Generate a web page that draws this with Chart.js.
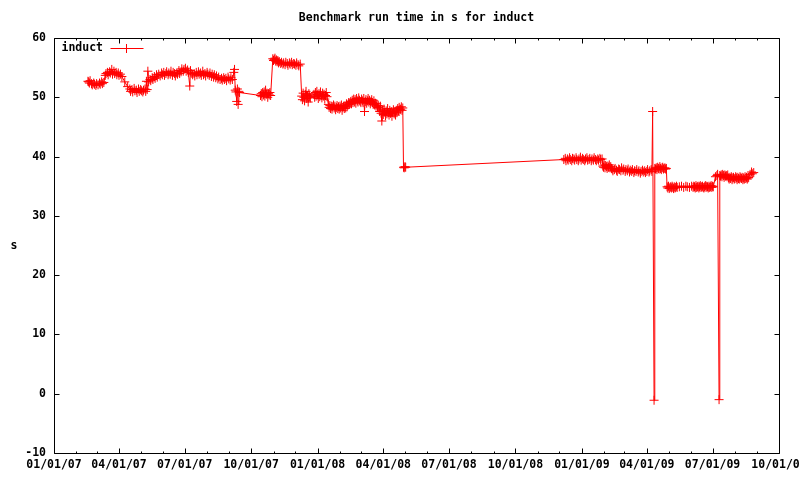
<!DOCTYPE html>
<html>
<head>
<meta charset="utf-8">
<title>Benchmark run time in s for induct</title>
<script src="https://cdn.jsdelivr.net/npm/chart.js@4.4.1/dist/chart.umd.min.js"></script>
<style>
	html, body { margin: 0; padding: 0; background: #fff; }
</style>
</head>
<body>
<canvas id="runChart" width="800" height="480"></canvas>
<script>
"use strict";

/*******************
	  DATA
*******************/

// x values are days counted from 01/01/07
var xTickLabels = ['01/01/07', '04/01/07', '07/01/07', '10/01/07', '01/01/08', '04/01/08',
	'07/01/08', '10/01/08', '01/01/09', '04/01/09', '07/01/09', '10/01/09'];

var yMin = -10;
var yMax = 60;
var yStep = 10;

var runDays = [
	47,48,49,50,52,53,55,56,58,59,61,63,64,66,67,69,
	71,72,74,75,77,78,80,81,83,84,86,87,89,90,92,94,
	98,102,105,106,108,109,111,112,114,115,117,118,120,121,123,124,126,127,128,129,130,131,
	133,134,136,137,139,140,142,143,145,
	147,149,150,152,153,155,156,158,159,161,162,164,165,167,168,170,171,173,174,176,177,179,180,
	182,183,185,186,188,189,191,192,
	194,195,197,198,200,201,203,204,206,207,209,210,212,213,215,216,218,219,221,222,224,225,227,228,230,
	232,233,235,236,238,239,241,242,244,245,247,249,250,
	251,252,253,254,255,256,257,
	286,287,288,289,290,291,292,293,294,295,296,297,298,299,300,
	303,304,305,306,307,308,309,310,311,312,314,315,317,318,320,321,323,324,326,327,329,330,332,333,335,336,338,339,341,
	343,344,345,346,347,348,349,350,351,352,353,354,355,
	360,361,362,363,364,365,366,367,368,369,370,371,372,373,374,375,376,377,378,
	380,381,382,383,384,385,386,387,388,389,390,391,392,393,394,395,396,397,398,399,400,401,402,403,404,405,406,407,408,409,410,
	411,412,413,414,415,416,417,418,419,420,421,422,423,424,425,426,427,428,429,430,431,432,433,434,435,436,437,438,439,440,441,442,443,444,445,446,447,448,449,
	450,451,452,453,454,455,456,457,458,459,460,461,462,463,464,465,466,467,468,469,470,471,472,473,474,475,476,477,478,479,
	480,481,482,483,484,485,486,487,
	706,708,709,711,712,714,715,717,718,720,721,723,724,726,727,729,730,732,733,735,736,738,739,741,742,744,745,747,748,750,751,753,754,756,757,759,
	760,761,762,763,764,765,766,767,768,769,770,771,772,
	773,774,776,777,779,780,782,783,785,786,788,789,791,792,794,795,797,798,800,801,803,804,806,807,809,810,812,813,815,816,818,819,821,822,824,825,827,828,
	829,831,
	832,833,834,835,836,837,838,839,840,841,842,843,844,845,846,847,848,
	849,850,851,852,853,854,855,856,857,858,859,860,861,862,863,
	866,869,872,875,877,880,883,
	885,886,887,888,889,890,891,892,893,894,895,896,897,898,899,900,901,902,903,904,905,906,907,908,909,910,911,912,913,
	916,918,919,921,
	922,923,924,925,926,927,928,929,930,931,932,933,
	934,935,936,937,938,939,940,941,942,943,944,945,946,947,948,949,950,951,952,953,954,955,956,957,958,959,960,961,962,
	964,966,967,969
];

var runTimes = [
	52.7,52.6,52.4,52.8,52.3,52.1,52.4,52.2,52.0,52.3,52.1,52.4,52.2,52.6,52.3,52.5,
	53.7,54.0,54.2,53.8,54.3,54.1,54.7,53.9,54.4,54.0,54.2,53.8,54.1,53.7,53.9,53.5,
	52.6,51.8,51.4,51.0,51.3,50.9,51.5,51.1,51.2,50.8,51.4,51.0,51.3,51.1,50.9,51.2,51.4,51.0,52.7,51.3,54.4,52.6,
	53.0,52.8,53.3,53.0,53.5,53.2,53.8,53.4,53.9,
	53.6,54.1,53.8,54.2,53.7,54.0,54.3,53.8,54.1,53.9,54.4,53.7,54.2,54.0,53.6,54.1,53.9,54.5,54.0,54.3,54.8,54.4,54.7,
	54.9,54.4,54.6,54.2,51.9,54.5,54.0,53.8,
	54.0,53.6,54.2,53.8,54.3,53.9,54.1,53.7,54.4,53.8,54.0,53.6,54.2,53.9,53.7,54.1,53.5,53.9,53.4,53.8,53.3,53.6,53.1,53.4,53.0,
	53.2,52.9,53.3,53.0,53.2,52.8,53.4,53.1,52.9,53.3,53.0,54.2,54.7,
	51.2,50.9,49.3,51.4,48.8,51.0,50.8,
	50.3,50.6,50.1,50.8,50.4,50.9,50.2,51.2,50.5,50.7,50.0,50.6,50.4,50.8,50.3,
	56.5,56.2,56.4,56.6,56.1,56.3,56.0,56.2,55.8,56.0,55.7,55.9,55.6,55.8,55.5,55.9,55.7,55.4,55.8,55.6,55.9,55.5,55.7,55.6,55.4,55.8,55.5,55.3,55.6,
	50.2,49.6,50.7,50.0,49.4,50.5,51.0,49.8,50.3,49.2,50.6,50.1,49.9,
	50.5,50.0,50.8,50.2,51.0,50.4,49.8,50.6,50.1,50.9,50.3,49.9,50.7,50.2,50.5,49.7,50.3,50.8,50.1,
	48.8,48.3,48.6,48.1,48.5,48.0,48.4,48.7,48.2,48.5,47.9,48.3,48.6,48.1,48.4,48.0,48.5,48.2,48.7,47.8,48.3,48.5,48.1,48.6,48.2,48.9,48.4,48.7,49.1,48.8,49.0,
	49.3,48.9,49.5,49.1,49.7,49.2,49.6,49.0,49.8,49.4,49.2,49.9,49.5,49.3,49.1,49.7,49.4,49.1,49.8,47.6,49.3,49.6,49.0,49.4,49.8,49.2,49.5,48.9,49.3,49.6,49.1,48.8,49.4,48.7,49.0,48.5,48.9,48.3,48.6,
	48.2,47.6,48.5,47.3,46.0,47.8,47.1,48.0,47.5,46.9,47.7,47.2,48.1,47.4,47.0,47.8,47.3,47.6,46.8,47.5,47.9,47.2,47.6,47.0,47.8,47.4,48.1,47.7,48.3,47.9,
	48.0,48.4,47.8,48.2,38.2,38.1,38.3,38.2,
	39.5,39.7,39.3,39.6,39.4,39.8,39.5,39.3,39.7,39.6,39.4,39.8,39.5,39.3,39.6,39.9,39.4,39.7,39.5,39.3,39.6,39.8,39.4,39.5,39.7,39.3,39.6,39.4,39.8,39.5,39.3,39.6,39.4,39.7,39.5,39.6,
	38.4,38.2,38.6,38.1,38.5,38.3,38.0,38.4,38.2,38.6,38.1,38.3,38.0,
	37.9,37.6,37.8,38.0,37.7,37.5,37.9,37.8,37.6,38.1,37.7,37.9,37.5,37.8,37.6,37.9,37.4,37.7,37.5,37.8,37.3,37.6,37.5,37.8,37.4,37.6,37.2,37.5,37.7,37.4,37.6,37.3,37.5,37.8,37.4,37.6,37.8,37.5,
	47.6,-1.1,
	38.0,37.9,38.1,37.8,38.2,38.0,37.9,38.3,38.0,37.8,38.1,38.2,37.9,38.0,38.1,37.9,38.0,
	34.9,34.7,35.0,34.6,34.8,34.9,34.7,35.0,34.8,34.6,34.9,34.7,34.8,35.0,34.8,
	34.9,35.0,34.8,35.0,34.9,34.8,35.0,
	34.8,35.0,34.9,34.7,35.1,34.8,34.9,35.0,34.7,34.9,35.1,34.8,34.9,35.0,34.8,34.7,34.9,35.1,34.8,35.0,34.9,34.7,35.0,34.8,34.9,35.1,34.8,35.0,34.9,
	36.6,36.8,37.0,-1.0,
	36.8,36.7,36.9,36.6,37.0,36.8,36.5,36.9,36.7,36.8,36.6,36.9,
	36.4,36.2,36.5,36.3,36.6,36.1,36.4,36.5,36.2,36.3,36.6,36.4,36.1,36.5,36.3,36.2,36.6,36.4,36.3,36.5,36.1,36.4,36.2,36.6,36.3,36.5,36.2,36.4,36.5,
	37.0,37.4,37.1,37.3
];

/*******************
	 HELPERS
*******************/

var DAY = 86400000;
var START = Date.UTC(2007, 0, 1);

function labelToDay(label) {
	var p = label.split('/');
	return (Date.UTC(2000 + Number(p[2]), Number(p[0]) - 1, Number(p[1])) - START) / DAY;
}

var xTickDays = xTickLabels.map(labelToDay);

// month starts between the quarter ticks
var minorDays = [];
for (var m = 0; m < 33; m++) {
	if (m % 3 !== 0) {
		minorDays.push((Date.UTC(2007, m, 1) - START) / DAY);
	}
}

var points = runDays.map(function (d, i) {
	return { x: d, y: runTimes[i] };
});

var FONT = { family: '"DejaVu Sans Mono", monospace', size: 11.5, weight: 'bold' };
var fontCss = 'bold 11.5px "DejaVu Sans Mono", monospace';

/*******************
  FRAME, TICKS, KEY
*******************/

var gnuplotFrame = {
	id: 'gnuplotFrame',
	afterDraw: function (chart) {
		var ctx = chart.ctx;
		var a = chart.chartArea;
		var xs = chart.scales.x;
		var ys = chart.scales.y;
		var L = Math.round(a.left) + 0.5;
		var R = Math.round(a.right) + 0.5;
		var T = Math.round(a.top) + 0.5;
		var B = Math.round(a.bottom) + 0.5;

		ctx.save();
		ctx.strokeStyle = '#000';
		ctx.lineWidth = 1;
		ctx.beginPath();
		ctx.rect(L, T, R - L, B - T);

		xTickDays.forEach(function (v) {
			var px = Math.round(xs.getPixelForValue(v)) + 0.5;
			ctx.moveTo(px, B); ctx.lineTo(px, B - 5);
			ctx.moveTo(px, T); ctx.lineTo(px, T + 5);
		});
		minorDays.forEach(function (v) {
			var px = Math.round(xs.getPixelForValue(v)) + 0.5;
			ctx.moveTo(px, B); ctx.lineTo(px, B - 2);
			ctx.moveTo(px, T); ctx.lineTo(px, T + 2);
		});
		ys.ticks.forEach(function (t) {
			var py = Math.round(ys.getPixelForValue(t.value)) + 0.5;
			ctx.moveTo(L, py); ctx.lineTo(L + 5, py);
			ctx.moveTo(R, py); ctx.lineTo(R - 5, py);
		});
		ctx.stroke();

		// y axis title, upright like gnuplot
		ctx.fillStyle = '#000';
		ctx.font = fontCss;
		ctx.textAlign = 'center';
		ctx.textBaseline = 'middle';
		ctx.fillText('s', 14, (T + B) / 2);

		// key in the top left corner
		var ds = chart.data.datasets[0];
		var ky = T + 10;
		ctx.textAlign = 'left';
		ctx.fillText(ds.label, L + 7, ky);
		ctx.strokeStyle = ds.borderColor;
		ctx.beginPath();
		ctx.moveTo(L + 56, ky); ctx.lineTo(L + 89, ky);
		ctx.moveTo(L + 72, ky - 4.5); ctx.lineTo(L + 72, ky + 4.5);
		ctx.stroke();
		ctx.restore();
	}
};

/*******************
	  CHART
*******************/

var ctx = document.getElementById('runChart');

var runChart = new Chart(ctx, {
	type: 'line',
	data: {
		datasets: [{
			label: 'induct',
			data: points,
			borderColor: '#ff0000',
			borderWidth: 1,
			pointStyle: 'cross',
			pointRadius: 4.5,
			pointBorderWidth: 1,
			pointBorderColor: '#ff0000',
			pointBackgroundColor: '#ff0000',
			tension: 0
		}]
	},
	options: {
		responsive: false,
		animation: false,
		devicePixelRatio: 1,
		layout: {
			autoPadding: false,
			padding: { left: 0, right: 21, top: 0, bottom: 0 }
		},
		plugins: {
			legend: { display: false },
			tooltip: { enabled: false },
			title: {
				display: true,
				text: 'Benchmark run time in s for induct',
				color: '#000',
				font: FONT,
				fullSize: false,
				padding: { top: 11, bottom: 13.2 }
			}
		},
		scales: {
			x: {
				type: 'linear',
				min: xTickDays[0],
				max: xTickDays[xTickDays.length - 1],
				grid: { display: false, drawTicks: false },
				border: { display: false },
				afterBuildTicks: function (scale) {
					scale.ticks = xTickDays.map(function (v) { return { value: v }; });
				},
				afterFit: function (scale) {
					scale.height = 27;
					scale.paddingLeft = 0;
					scale.paddingRight = 0;
				},
				ticks: {
					autoSkip: false,
					maxRotation: 0,
					minRotation: 0,
					padding: 5,
					color: '#000',
					font: FONT,
					callback: function (value, index) {
						return xTickLabels[index];
					}
				}
			},
			y: {
				min: yMin,
				max: yMax,
				grid: { display: false, drawTicks: false },
				border: { display: false },
				afterFit: function (scale) {
					scale.width = 54;
				},
				ticks: {
					stepSize: yStep,
					padding: 8,
					color: '#000',
					font: FONT
				}
			}
		}
	},
	plugins: [gnuplotFrame]
});
</script>
</body>
</html>
